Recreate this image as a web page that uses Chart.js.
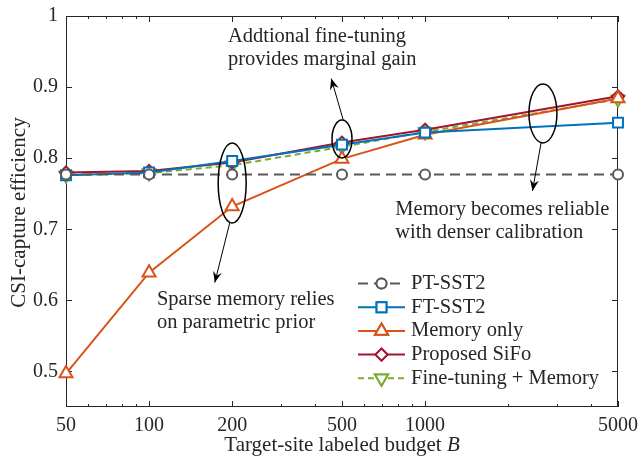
<!DOCTYPE html>
<html>
<head>
<meta charset="utf-8">
<script src="https://cdn.jsdelivr.net/npm/chart.js@4/dist/chart.umd.min.js"></script>
<style>
  html, body { margin: 0; padding: 0; background: #fff; }
  #wrap { width: 638px; height: 456px; }
</style>
</head>
<body>
<div id="wrap"><canvas id="chart" width="638" height="456"></canvas></div>
<script>
// values
const budgets = [50, 100, 200, 500, 1000, 5000];
const ptSst2 = [0.777, 0.777, 0.777, 0.777, 0.777, 0.777];
const ftSst2 = [0.776, 0.780, 0.796, 0.819, 0.836, 0.850];
const memoryOnly = [0.497, 0.639, 0.732, 0.799, 0.833, 0.884];
const proposedSifo = [0.780, 0.782, 0.794, 0.822, 0.840, 0.887];
const ftPlusMemory = [0.776, 0.779, 0.790, 0.816, 0.837, 0.883];

const xTicks = [50, 100, 200, 500, 1000, 5000];
const xMinorTicks = [60, 70, 80, 90, 300, 400, 600, 700, 800, 900, 2000, 3000, 4000];
const yTicks = [0.5, 0.6, 0.7, 0.8, 0.9, 1];

// annotations (data coordinates)
const ellipses = [
  { x: 200, y: 0.765, rx: 14, ry: 40 },
  { x: 500, y: 0.827, rx: 10, ry: 19 },
  { x: 2673, y: 0.863, rx: 14, ry: 29.5 }
];
const arrows = [
  { from: [196, 0.709], to: [173, 0.625] },
  { from: [505, 0.854], to: [457, 0.912] },
  { from: [2636, 0.823], to: [2450, 0.754] }
];
const notes = [
  { x: 193, y: 0.9705, lines: ['Addtional fine-tuning', 'provides marginal gain'] },
  { x: 780, y: 0.7276, lines: ['Memory becomes reliable', 'with denser calibration'] },
  { x: 106.8, y: 0.6013, lines: ['Sparse memory relies', 'on parametric prior'] }
];

const SERIF = "'Liberation Serif', 'Times New Roman', serif";
const INK = '#262626';

function series(label, data, color, style, radius, extra) {
  return Object.assign({
    label: label,
    data: data.map((v, i) => ({ x: budgets[i], y: v })),
    borderColor: color,
    backgroundColor: '#fff',
    borderWidth: 2,
    pointStyle: style,
    pointRadius: radius,
    pointBorderWidth: 2,
    pointBorderColor: color,
    pointBackgroundColor: '#fff',
    tension: 0,
    fill: false,
    clip: false
  }, extra || {});
}

const datasets = [
  series('PT-SST2', ptSst2, '#595959', 'circle', 5, { borderDash: [10, 6] }),
  series('FT-SST2', ftSst2, '#0072BD', 'rect', 7),
  series('Memory only', memoryOnly, '#D95319', 'triangle', 7.5),
  series('Proposed SiFo', proposedSifo, '#A2142F', 'rectRot', 6),
  series('Fine-tuning + Memory', ftPlusMemory, '#77AC30', 'triangle', 7.5, { borderDash: [6, 4], pointRotation: 180 })
];

function arrowHead(ctx, x1, y1, x2, y2) {
  const a = Math.atan2(y2 - y1, x2 - x1);
  const len = 11, half = 4.5;
  const bx = x2 - len * Math.cos(a), by = y2 - len * Math.sin(a);
  const nx = -Math.sin(a), ny = Math.cos(a);
  const mx = x2 - len * 0.65 * Math.cos(a), my = y2 - len * 0.65 * Math.sin(a);
  ctx.beginPath();
  ctx.moveTo(x2, y2);
  ctx.lineTo(bx + nx * half, by + ny * half);
  ctx.lineTo(mx, my);
  ctx.lineTo(bx - nx * half, by - ny * half);
  ctx.closePath();
  ctx.fill();
}

// frame, ticks and labels go under the data
const axesBox = {
  id: 'axesBox',
  beforeDatasetsDraw(chart) {
    const ctx = chart.ctx;
    const a = chart.chartArea;
    const xs = chart.scales.x, ys = chart.scales.y;
    ctx.save();
    ctx.strokeStyle = INK;
    ctx.lineWidth = 1;
    ctx.strokeRect(a.left + 0.5, a.top + 0.5, a.right - a.left - 1, a.bottom - a.top - 1);
    ctx.beginPath();
    xTicks.forEach(v => {
      const px = Math.round(xs.getPixelForValue(v)) + 0.5;
      ctx.moveTo(px, a.bottom); ctx.lineTo(px, a.bottom - 6);
      ctx.moveTo(px, a.top); ctx.lineTo(px, a.top + 6);
    });
    xMinorTicks.forEach(v => {
      const px = Math.round(xs.getPixelForValue(v)) + 0.5;
      ctx.moveTo(px, a.bottom); ctx.lineTo(px, a.bottom - 3);
      ctx.moveTo(px, a.top); ctx.lineTo(px, a.top + 3);
    });
    yTicks.forEach(v => {
      const py = Math.round(ys.getPixelForValue(v)) + 0.5;
      ctx.moveTo(a.left, py); ctx.lineTo(a.left + 6, py);
      ctx.moveTo(a.right, py); ctx.lineTo(a.right - 6, py);
    });
    ctx.stroke();

    ctx.fillStyle = INK;
    ctx.font = '20px ' + SERIF;
    ctx.textBaseline = 'middle';
    ctx.textAlign = 'center';
    xTicks.forEach(v => ctx.fillText(String(v), xs.getPixelForValue(v), a.bottom + 19));
    ctx.textAlign = 'right';
    yTicks.forEach(v => ctx.fillText(v === 1 ? '1' : v.toFixed(1), a.left - 8, ys.getPixelForValue(v)));

    const t1 = 'Target-site labeled budget ';
    ctx.font = '21px ' + SERIF;
    const w1 = ctx.measureText(t1).width;
    ctx.font = 'italic 21px ' + SERIF;
    const w2 = ctx.measureText('B').width;
    const sx = (a.left + a.right) / 2 - (w1 + w2) / 2;
    ctx.textAlign = 'left';
    ctx.font = '21px ' + SERIF;
    ctx.fillText(t1, sx, 445);
    ctx.font = 'italic 21px ' + SERIF;
    ctx.fillText('B', sx + w1, 445);

    ctx.save();
    ctx.translate(19, 212.5);
    ctx.rotate(-Math.PI / 2);
    ctx.textAlign = 'center';
    ctx.font = '21px ' + SERIF;
    ctx.fillText('CSI-capture efficiency', 0, 0);
    ctx.restore();
    ctx.restore();
  }
};

// callouts and legend go on top
const decor = {
  id: 'decor',
  afterDraw(chart) {
    const ctx = chart.ctx;
    const xs = chart.scales.x, ys = chart.scales.y;
    ctx.save();

    ctx.strokeStyle = '#000';
    ctx.fillStyle = '#000';
    ctx.lineWidth = 1.5;
    ellipses.forEach(e => {
      ctx.beginPath();
      ctx.ellipse(xs.getPixelForValue(e.x), ys.getPixelForValue(e.y), e.rx, e.ry, 0, 0, Math.PI * 2);
      ctx.stroke();
    });
    ctx.lineWidth = 1;
    arrows.forEach(ar => {
      const x1 = xs.getPixelForValue(ar.from[0]), y1 = ys.getPixelForValue(ar.from[1]);
      const x2 = xs.getPixelForValue(ar.to[0]), y2 = ys.getPixelForValue(ar.to[1]);
      ctx.beginPath();
      ctx.moveTo(x1, y1); ctx.lineTo(x2, y2);
      ctx.stroke();
      arrowHead(ctx, x1, y1, x2, y2);
    });

    ctx.fillStyle = INK;
    ctx.font = '20.5px ' + SERIF;
    ctx.textAlign = 'left';
    ctx.textBaseline = 'middle';
    notes.forEach(n => {
      const px = xs.getPixelForValue(n.x), py = ys.getPixelForValue(n.y);
      n.lines.forEach((ln, i) => ctx.fillText(ln, px, py + i * 23));
    });

    const lx = 358, ly = 283.5, step = 23.7;
    chart.data.datasets.forEach((ds, i) => {
      const y = ly + i * step;
      ctx.save();
      ctx.strokeStyle = ds.borderColor;
      ctx.lineWidth = ds.borderWidth;
      ctx.setLineDash(ds.borderDash || []);
      ctx.beginPath();
      ctx.moveTo(lx, y); ctx.lineTo(lx + 47, y);
      ctx.stroke();
      ctx.setLineDash([]);
      Chart.helpers.drawPoint(ctx, {
        pointStyle: ds.pointStyle,
        rotation: ds.pointRotation || 0,
        radius: ds.pointRadius,
        borderWidth: ds.pointBorderWidth
      }, lx + 23.5, y);
      ctx.fillStyle = '#fff';
      ctx.fill();
      ctx.stroke();
      ctx.restore();
      ctx.fillStyle = INK;
      ctx.font = '20.5px ' + SERIF;
      ctx.fillText(ds.label, lx + 53, y);
    });
    ctx.restore();
  }
};

new Chart(document.getElementById('chart').getContext('2d'), {
  type: 'line',
  data: { datasets: datasets },
  options: {
    responsive: false,
    animation: false,
    devicePixelRatio: 1,
    layout: { padding: { left: 0, right: 20, top: 16, bottom: 0 } },
    plugins: { legend: { display: false }, tooltip: { enabled: false } },
    scales: {
      x: {
        type: 'logarithmic',
        min: 50,
        max: 5000,
        grid: { display: false, drawTicks: false },
        border: { display: false },
        afterBuildTicks: s => { s.ticks = xTicks.map(v => ({ value: v })); },
        afterFit: s => { s.height = 49; },
        ticks: { display: false }
      },
      y: {
        min: 0.45,
        max: 1,
        grid: { display: false, drawTicks: false },
        border: { display: false },
        afterBuildTicks: s => { s.ticks = yTicks.map(v => ({ value: v })); },
        afterFit: s => { s.width = 66; },
        ticks: { display: false }
      }
    }
  },
  plugins: [axesBox, decor]
});
</script>
</body>
</html>
